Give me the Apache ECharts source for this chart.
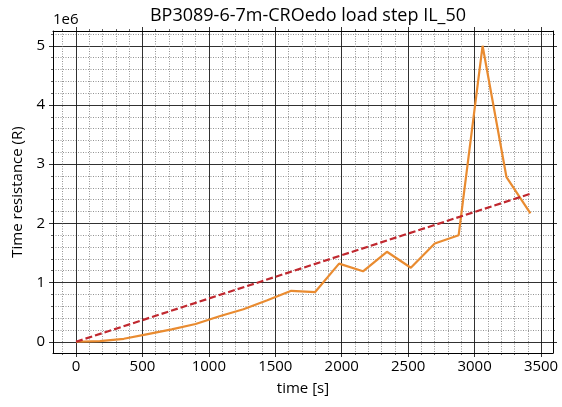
<!DOCTYPE html>
<html>
<head>
<meta charset="utf-8">
<script src="https://cdn.jsdelivr.net/npm/echarts@6/dist/echarts.min.js"></script>
<style>
  html, body { margin: 0; padding: 0; background: #fff; }
  #chart { width: 562px; height: 407px; }
</style>
</head>
<body>
<div id="chart"></div>
<script>
// time [s] of each measurement
const times = [0, 180, 360, 540, 720, 900, 1080, 1260, 1440, 1620, 1800, 1980, 2160, 2340, 2520, 2700, 2880, 3060, 3240, 3420]
// time resistance, in units of 1e6
const resistance = [0, 0.01, 0.05, 0.13, 0.21, 0.30, 0.43, 0.55, 0.70, 0.86, 0.84, 1.32, 1.19, 1.52, 1.25, 1.66, 1.80, 5.00, 2.78, 2.17]
// dashed reference line (start / end)
const refTimes = [0, 3420]
const refValues = [0, 2.5]
// tick labels
const xTicks = [0, 500, 1000, 1500, 2000, 2500, 3000, 3500]
const yTicks = [0, 1, 2, 3, 4, 5]

const font = 'Open Sans'
const tickColor = '#000'

var myChart = echarts.init(document.getElementById('chart'))

// axis pieces shared by the four sides
function sideAxis (ticks) {
  return {
    axisLine: { show: true, onZero: false, lineStyle: { color: '#000', width: 1 } },
    axisTick: { show: true, inside: false, length: 4, customValues: ticks, lineStyle: { color: tickColor, width: 0.8 } },
    minorTick: { show: true, splitNumber: 5, length: 2, lineStyle: { color: tickColor, width: 0.6 } },
    axisLabel: { show: false },
    splitLine: { show: false },
    minorSplitLine: { show: false }
  }
}

const xBase = { type: 'value', min: -173, max: 3590, splitNumber: 8 }
const yBase = { type: 'value', min: -0.19, max: 5.25, splitNumber: 5 }
const labelStyle = { fontFamily: font, fontSize: 15, color: '#000' }
const majorGrid = { show: true, lineStyle: { color: '#1a1a1a', width: 0.9 } }
const minorGrid = { show: true, lineStyle: { color: '#777', width: 0.8, type: [1, 1.5] } }

var option = {
  animation: false,
  backgroundColor: '#fff',
  title: {
    text: 'BP3089-6-7m-CROedo load step IL_50',
    left: 303,
    textAlign: 'center',
    top: 2,
    textStyle: { fontFamily: font, fontSize: 18, fontWeight: 'normal', color: '#000' }
  },
  grid: { left: 53, right: 9, top: 31, bottom: 54, containLabel: false },
  graphic: [{
    type: 'text',
    left: 53,
    top: 12,
    style: { text: '1e6', font: '15px "Open Sans"', fill: '#000' }
  }],
  xAxis: [
    Object.assign({}, xBase, sideAxis(xTicks), {
      position: 'bottom',
      name: 'time [s]',
      nameLocation: 'middle',
      nameGap: 28,
      nameTextStyle: labelStyle,
      axisLabel: Object.assign({ show: true, customValues: xTicks, margin: 6, formatter: v => String(v) }, labelStyle),
      splitLine: majorGrid,
      minorSplitLine: minorGrid
    }),
    Object.assign({}, xBase, sideAxis(xTicks), { position: 'top' })
  ],
  yAxis: [
    Object.assign({}, yBase, sideAxis(yTicks), {
      position: 'left',
      name: 'Time resistance (R)',
      nameLocation: 'middle',
      nameGap: 28,
      nameTextStyle: labelStyle,
      axisLabel: Object.assign({ show: true, customValues: yTicks, margin: 8, formatter: v => String(v) }, labelStyle),
      splitLine: majorGrid,
      minorSplitLine: minorGrid
    }),
    Object.assign({}, yBase, sideAxis(yTicks), { position: 'right' })
  ],
  series: [
    {
      type: 'line',
      xAxisIndex: 0,
      yAxisIndex: 0,
      data: times.map((t, i) => [t, resistance[i]]),
      showSymbol: false,
      lineStyle: { color: '#e98b30', width: 2.2 },
      z: 3
    },
    {
      type: 'line',
      xAxisIndex: 0,
      yAxisIndex: 0,
      data: refTimes.map((t, i) => [t, refValues[i]]),
      showSymbol: false,
      lineStyle: { color: '#c0282f', width: 2.2, type: [7, 3] },
      z: 4
    }
  ]
}

option && myChart.setOption(option)
</script>
</body>
</html>
